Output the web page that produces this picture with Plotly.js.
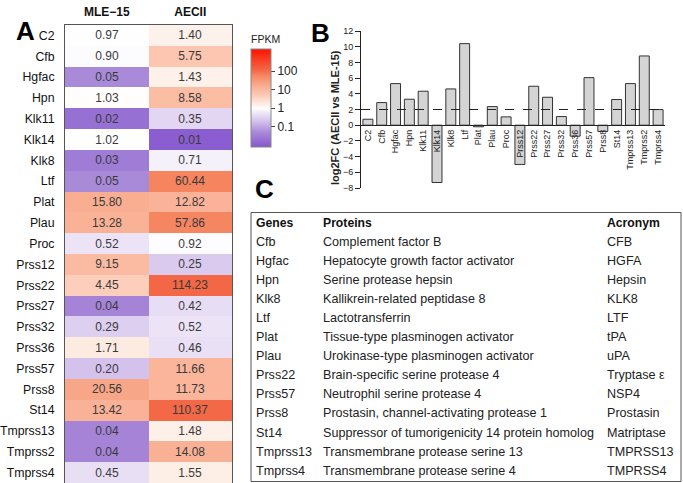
<!DOCTYPE html>
<html><head><meta charset="utf-8">
<script src="https://cdn.plot.ly/plotly-3.0.1.min.js"></script>
<style>html,body{margin:0;padding:0;background:#fff}#plot{width:683px;height:483px}</style>
</head><body><div id="plot"></div>
<script>
const genes = ['C2','Cfb','Hgfac','Hpn','Klk11','Klk14','Klk8','Ltf','Plat','Plau','Proc','Prss12','Prss22','Prss27','Prss32','Prss36','Prss57','Prss8','St14','Tmprss13','Tmprss2','Tmprss4'];
const sampleLabels = ['MLE−15','AECII'];
const fpkmMLE15 = [0.97,0.90,0.05,1.03,0.02,1.02,0.03,0.05,15.80,13.28,0.52,9.15,4.45,0.04,0.29,1.71,0.20,20.56,13.42,0.04,0.04,0.45];
const fpkmAECII = [1.40,5.75,1.43,8.58,0.35,0.01,0.71,60.44,12.82,57.86,0.92,0.25,114.23,0.42,0.52,0.46,11.66,11.73,110.37,1.48,14.08,1.55];
const log2FC = [0.76,2.88,5.30,3.31,4.33,-7.3,4.62,10.39,-0.2,2.37,1.06,-5.0,4.96,3.56,1.10,-1.4,6.06,-0.8,3.27,5.30,8.82,1.99];
const cbTickVals = [-1,0,1,2];
const cbTickText = ['0.1','1','10','100'];
const tableHeader = ['Genes','Proteins','Acronym'];
const tableGenes = ['Cfb','Hgfac','Hpn','Klk8','Ltf','Plat','Plau','Prss22','Prss57','Prss8','St14','Tmprss13','Tmprss4'];
const tableProteins = ['Complement factor B','Hepatocyte growth factor activator','Serine protease hepsin','Kallikrein-related peptidase 8','Lactotransferrin','Tissue-type plasminogen activator','Urokinase-type plasminogen activator','Brain-specific serine protease 4','Neutrophil serine protease 4','Prostasin, channel-activating protease 1','Suppressor of tumorigenicity 14 protein homolog','Transmembrane protease serine 13','Transmembrane protease serine 4'];
const tableAcronyms = ['CFB','HGFA','Hepsin','KLK8','LTF','tPA','uPA','Tryptase ε','NSP4','Prostasin','Matriptase','TMPRSS13','TMPRSS4'];

const W = 683, H = 483;
const px = v => v / W;
const py = v => (H - v) / H;
const FONT = 'Liberation Sans, Arial, sans-serif';

const zmin = -2.1, zmax = 3.2;
const stops = [[-2.1,'#8052cc'],[-2.0,'#8a5dd0'],[-1.3,'#a98ad9'],[-0.7,'#d4c2ec'],[-0.3,'#ebe3f6'],[0,'#ffffff'],[0.15,'#fdf1ea'],[0.76,'#fcc6b0'],[1.2,'#f9ae92'],[1.78,'#f6845f'],[2.05,'#f36847'],[3.2,'#ff1200']];
const colorscale = stops.map(s => [(s[0]-zmin)/(zmax-zmin), s[1]]);

const z = genes.map((g,i) => [Math.log10(fpkmMLE15[i]), Math.log10(fpkmAECII[i])]);
const txt = genes.map((g,i) => [fpkmMLE15[i].toFixed(2), fpkmAECII[i].toFixed(2)]);

const heat = {
  type:'heatmap', x: sampleLabels, y: genes, z: z, text: txt,
  texttemplate:'%{text}', textfont:{family:FONT,size:12,color:'#3a3a3a'},
  colorscale: colorscale, zmin: zmin, zmax: zmax, xaxis:'x', yaxis:'y',
  hoverinfo:'skip',
  colorbar:{
    tickvals: cbTickVals, ticktext: cbTickText, ticks:'outside', ticklen:4, tickcolor:'#444',
    tickfont:{family:FONT,size:12,color:'#222'},
    thickness:20, thicknessmode:'pixels', len:98, lenmode:'pixels',
    x: px(251), xanchor:'left', y: py(98), yanchor:'middle', xpad:0, ypad:0,
    outlinewidth:1, outlinecolor:'#888'
  }
};

const bars = {
  type:'bar', x: genes, y: log2FC, xaxis:'x2', yaxis:'y2',
  marker:{color:'#d4d4d4', line:{color:'#333', width:1}}, hoverinfo:'skip'
};

const yb0 = 188, yb1 = 31;
const ydom2 = [py(yb0), py(yb1)];
const zeroPos = ydom2[0] + (0 - (-8)) / 20 * (ydom2[1] - ydom2[0]);

// table text as annotations, built from the arrays
const tableCols = [tableGenes, tableProteins, tableAcronyms];
const colX = [254, 321, 605];
const rowY0 = 222.7, rowH = 19.08;
const TFS = 12.6;
const tableAnn = [];
tableHeader.forEach((h,c) => tableAnn.push({text:'<b>'+h+'</b>', xref:'paper', yref:'paper', x:px(colX[c]), y:py(rowY0),
  xanchor:'left', yanchor:'middle', showarrow:false, font:{family:FONT,size:12.2,color:'#111'}}));
tableCols.forEach((col,c) => col.forEach((t,r) => tableAnn.push({text:t, xref:'paper', yref:'paper', x:px(colX[c]), y:py(rowY0+(r+1)*rowH),
  xanchor:'left', yanchor:'middle', showarrow:false, font:{family:FONT,size:TFS,color:'#222'}})));

const layout = {
  width:W, height:H, margin:{l:0,r:0,t:0,b:0}, paper_bgcolor:'#fff', plot_bgcolor:'rgba(0,0,0,0)',
  showlegend:false, font:{family:FONT,color:'#222'},
  xaxis:{domain:[px(65), px(232)], side:'top', anchor:'y', showline:true, mirror:true, linecolor:'#555', linewidth:1,
    ticks:'outside', ticklen:3, tickcolor:'rgba(0,0,0,0)', tickfont:{family:FONT,size:12,color:'#111'},
    tickvals: sampleLabels, ticktext: sampleLabels.map(s=>'<b>'+s+'</b>'), showgrid:false, zeroline:false, fixedrange:true},
  yaxis:{domain:[py(484), py(25)], anchor:'x', autorange:'reversed', showline:true, mirror:true, linecolor:'#555', linewidth:1,
    ticks:'outside', ticklen:7, tickcolor:'rgba(0,0,0,0)', tickfont:{family:FONT,size:12.3,color:'#111'},
    showgrid:false, zeroline:false},
  xaxis2:{domain:[px(361), px(665)], anchor:'free', position: zeroPos, range:[-0.5, genes.length-0.5],
    showline:true, linecolor:'#222', linewidth:1, ticks:'', tickangle:-90, tickfont:{family:FONT,size:9,color:'#222'},
    showgrid:false, zeroline:false},
  yaxis2:{domain: ydom2, anchor:'x2', range:[-8,12], dtick:2, showline:true, linecolor:'#222', linewidth:1,
    ticks:'outside', ticklen:5, tickcolor:'#222', tickfont:{family:FONT,size:9,color:'#222'},
    showgrid:false, zeroline:false},
  bargap:0.28,
  shapes:[
    {type:'line', xref:'x2 domain', yref:'y2', x0:0, x1:1, y0:2, y1:2, line:{color:'#222', width:1, dash:'dash'}},
    {type:'rect', xref:'paper', yref:'paper', x0:px(251), x1:px(681), y0:py(481.5), y1:py(212.5), line:{color:'#555', width:1}, fillcolor:'rgba(0,0,0,0)'}
  ],
  annotations:[
    {text:'<b>A</b>', xref:'paper', yref:'paper', x:px(14), y:py(13.5), showarrow:false, font:{family:FONT,size:26,color:'#000'}},
    {text:'<b>B</b>', xref:'paper', yref:'paper', x:px(320), y:py(16), showarrow:false, font:{family:FONT,size:26,color:'#000'}},
    {text:'<b>C</b>', xref:'paper', yref:'paper', x:px(264), y:py(189), showarrow:false, font:{family:FONT,size:26,color:'#000'}},
    {text:'FPKM', xref:'paper', yref:'paper', x:px(249), y:py(39), xanchor:'left', yanchor:'middle', showarrow:false,
      font:{family:FONT,size:10.5,color:'#222'}},
    {text:'<b>log2FC (AECII vs MLE-15)</b>', xref:'paper', yref:'paper', x:px(335), y:py(118), textangle:-90, showarrow:false,
      xanchor:'center', yanchor:'middle', font:{family:FONT,size:11,color:'#222'}}
  ].concat(tableAnn)
};

Plotly.newPlot('plot', [heat, bars], layout, {staticPlot:true, displayModeBar:false});
</script></body></html>
